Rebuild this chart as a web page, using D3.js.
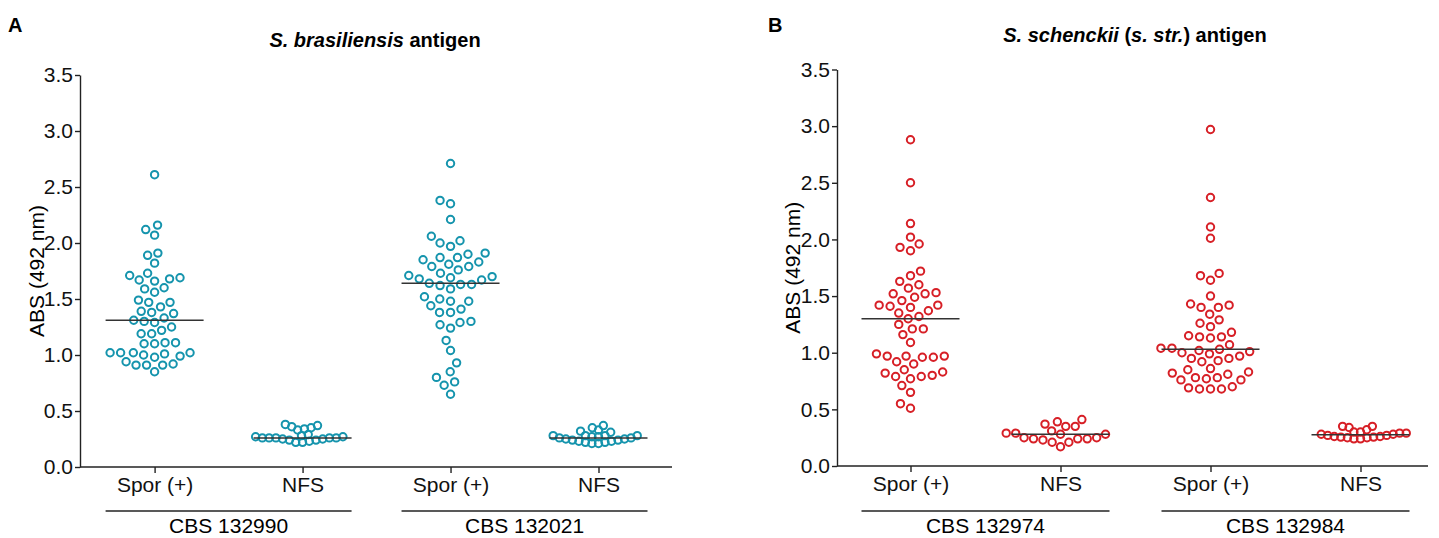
<!DOCTYPE html>
<html>
<head>
<meta charset="utf-8">
<script src="https://cdn.jsdelivr.net/npm/d3@7"></script>
<style>
  body { margin: 0; background: #fff; }
  svg { display: block; font-family: "Liberation Sans", Arial, sans-serif; }
</style>
</head>
<body>
<div id="chart"></div>
<script>
// data
const categoryLabels = ['Spor (+)', 'NFS', 'Spor (+)', 'NFS']
const yTicks = [0, 0.5, 1.0, 1.5, 2.0, 2.5, 3.0, 3.5]
const groupsA = ['CBS 132990', 'CBS 132021']
const groupsB = ['CBS 132974', 'CBS 132984']

const brasSpor1 = [2.61, 2.12, 2.07, 2.16, 1.91, 1.89, 1.82, 1.73, 1.71, 1.68, 1.66, 1.67, 1.69, 1.56, 1.59, 1.60,
    1.47, 1.47, 1.49, 1.43, 1.38, 1.37, 1.39, 1.33, 1.30, 1.29, 1.31, 1.25, 1.22, 1.19, 1.19, 1.11, 1.10, 1.10,
    1.11, 1.02, 1.01, 1.02, 0.99, 1.02, 0.98, 1.00, 1.02, 0.92, 0.91, 0.91, 0.91, 0.94, 0.85]
const brasNfs1 = [0.37, 0.35, 0.33, 0.34, 0.36, 0.38, 0.29, 0.27, 0.26, 0.26, 0.26, 0.25, 0.24, 0.23, 0.22, 0.22,
    0.24, 0.25, 0.26, 0.26, 0.27, 0.28]
const brasSpor2 = [2.71, 2.35, 2.38, 2.21, 2.06, 2.02, 1.97, 2.00, 1.90, 1.87, 1.85, 1.87, 1.91, 1.81, 1.79, 1.76,
    1.79, 1.83, 1.73, 1.70, 1.68, 1.67, 1.69, 1.71, 1.64, 1.63, 1.62, 1.63, 1.59, 1.50, 1.52, 1.48, 1.44, 1.48,
    1.38, 1.38, 1.41, 1.29, 1.24, 1.27, 1.30, 1.13, 1.04, 0.93, 0.85, 0.80, 0.76, 0.73, 0.65]
const brasNfs2 = [0.35, 0.32, 0.31, 0.33, 0.37, 0.28, 0.28, 0.27, 0.26, 0.25, 0.24, 0.23, 0.22, 0.21, 0.21, 0.22,
    0.23, 0.24, 0.25, 0.26, 0.27, 0.28, 0.28]

const schSpor1 = [2.88, 2.50, 2.14, 2.02, 1.96, 1.90, 1.93, 1.72, 1.68, 1.63, 1.57, 1.60, 1.52, 1.49, 1.46, 1.52,
    1.53, 1.42, 1.41, 1.37, 1.35, 1.40, 1.42, 1.32, 1.30, 1.21, 1.16, 1.21, 1.25, 1.09, 0.99, 0.97, 0.96, 0.92,
    0.90, 0.96, 0.97, 0.97, 0.85, 0.82, 0.79, 0.77, 0.79, 0.80, 0.83, 0.71, 0.65, 0.55, 0.51]
const schNfs1 = [0.37, 0.35, 0.39, 0.41, 0.35, 0.31, 0.29, 0.29, 0.28, 0.28, 0.25, 0.24, 0.23, 0.21, 0.17, 0.21,
    0.24, 0.24, 0.25]
const schSpor2 = [2.97, 2.37, 2.11, 2.01, 1.68, 1.64, 1.70, 1.50, 1.42, 1.40, 1.40, 1.43, 1.34, 1.29, 1.26, 1.23,
    1.18, 1.14, 1.13, 1.14, 1.15, 1.07, 1.04, 1.03, 1.04, 1.02, 1.00, 0.97, 0.95, 0.92, 0.93, 0.95, 0.99, 1.01,
    0.85, 0.82, 0.81, 0.83, 0.86, 0.78, 0.76, 0.76, 0.77, 0.78, 0.70, 0.68, 0.68, 0.68, 0.69]
const schNfs2 = [0.35, 0.35, 0.34, 0.32, 0.30, 0.29, 0.28, 0.27, 0.26, 0.255, 0.25, 0.24, 0.24, 0.25, 0.255, 0.26,
    0.27, 0.28, 0.29, 0.30]

// consts
const width = 1439, height = 538
const medianHalf = 49
const dotR = 3.7

const panels = [
    {
        letter: 'A', letterX: 8,
        title: [{t: 'S. brasiliensis', i: true}, {t: ' antigen'}], titleX: 375, titleY: 47,
        x0: 80, x1: 672, yTop: 75, yBottom: 467, catFirst: 154.6, catLast: 598.5, yLabelX: 44,
        groups: groupsA, series: [brasSpor1, brasNfs1, brasSpor2, brasNfs2], color: '#1594ad',
        // horizontal packing distance per column (Prism squeezes the crowded columns)
        dodgeDist: [10.5, 6.8, 11, 6.6]
    },
    {
        letter: 'B', letterX: 768,
        title: [{t: 'S. schenckii', i: true}, {t: ' ('}, {t: 's. str.', i: true}, {t: ') antigen'}], titleX: 1135, titleY: 42,
        x0: 837, x1: 1428, yTop: 69.5, yBottom: 466, catFirst: 910.5, catLast: 1360.5, yLabelX: 800,
        groups: groupsB, series: [schSpor1, schNfs1, schSpor2, schNfs2], color: '#d71f26',
        dodgeDist: [11, 9.5, 11, 6.6]
    }
]

// helpers
const dodge = (values, y, d) => {
    // lowest values first, so they sit in the middle of the column
    const pts = values.map(v => ({v, y: y(v), x: 0})).sort((a, b) => b.y - a.y)
    const placed = []
    pts.forEach(p => {
        let cands = [0]
        placed.forEach(q => {
            const dy = Math.abs(p.y - q.y)
            if (dy < d) {
                const dx = Math.sqrt(d * d - dy * dy)
                cands.push(q.x + dx, q.x - dx)
            }
        })
        cands.sort((a, b) => Math.abs(a) - Math.abs(b) || a - b)
        const ok = c => placed.every(q => (c - q.x) ** 2 + (p.y - q.y) ** 2 >= d * d - 1e-6)
        p.x = cands.find(ok)
        placed.push(p)
    })
    return pts
}

// renderer
const svg = d3.select('#chart')
    .append('svg')
    .attr('width', width)
    .attr('height', height)

panels.forEach(pn => {
    const y = d3.scaleLinear().domain([0, 3.5]).range([pn.yBottom, pn.yTop])
    const x = d3.scalePoint().domain(d3.range(categoryLabels.length)).range([pn.catFirst, pn.catLast])
    const g = svg.append('g')

    // letter + title
    g.append('text')
        .attr('x', pn.letterX).attr('y', 32)
        .attr('font-size', 20).attr('font-weight', 'bold')
        .text(pn.letter)
    const title = g.append('text')
        .attr('x', pn.titleX).attr('y', pn.titleY)
        .attr('text-anchor', 'middle')
        .attr('font-size', 20).attr('font-weight', 'bold')
    pn.title.forEach(s => {
        title.append('tspan').attr('font-style', s.i ? 'italic' : 'normal').text(s.t)
    })

    // y axis
    const yAxis = g.append('g')
        .attr('transform', `translate(${pn.x0},0)`)
        .call(d3.axisLeft(y).tickValues(yTicks).tickFormat(d3.format('.1f')).tickSize(5).tickSizeOuter(0).tickPadding(2))
    yAxis.selectAll('text').attr('font-size', 21).attr('fill', '#111').attr('font-family', null)
    yAxis.selectAll('line, path').attr('stroke', '#222').attr('stroke-width', 1.4)

    g.append('text')
        .attr('transform', `translate(${pn.yLabelX},${(pn.yTop + pn.yBottom) / 2}) rotate(-90)`)
        .attr('text-anchor', 'middle')
        .attr('font-size', 21)
        .text('ABS (492 nm)')

    // x axis
    const xAxis = g.append('g')
        .attr('transform', `translate(0,${pn.yBottom})`)
        .call(d3.axisBottom(x).tickFormat(i => categoryLabels[i]).tickSize(6).tickPadding(4))
    xAxis.select('.domain').remove()
    xAxis.selectAll('text').attr('font-size', 21).attr('fill', '#111').attr('font-family', null)
    xAxis.selectAll('line').attr('stroke', '#222').attr('stroke-width', 1.4)
    xAxis.append('line')
        .attr('x1', pn.x0).attr('x2', pn.x1)
        .attr('stroke', '#222').attr('stroke-width', 1.4)

    // group brackets
    pn.groups.forEach((name, gi) => {
        const a = x(gi * 2), b = x(gi * 2 + 1)
        g.append('line')
            .attr('x1', a - medianHalf).attr('x2', b + medianHalf)
            .attr('y1', 511).attr('y2', 511)
            .attr('stroke', '#222').attr('stroke-width', 1.3)
        g.append('text')
            .attr('x', (a + b) / 2).attr('y', 533)
            .attr('text-anchor', 'middle')
            .attr('font-size', 21)
            .text(name)
    })

    // dots + medians
    pn.series.forEach((vals, ci) => {
        const cx = x(ci)
        const pts = dodge(vals, y, pn.dodgeDist[ci])
        g.append('g')
            .selectAll('circle')
            .data(pts)
            .enter()
            .append('circle')
            .attr('cx', d => cx + d.x)
            .attr('cy', d => d.y)
            .attr('r', dotR)
            .attr('fill', 'none')
            .attr('stroke', pn.color)
            .attr('stroke-width', 2)
        const med = d3.median(vals)
        g.append('line')
            .attr('x1', cx - medianHalf).attr('x2', cx + medianHalf)
            .attr('y1', y(med)).attr('y2', y(med))
            .attr('stroke', '#333').attr('stroke-width', 1.5)
    })
})
</script>
</body>
</html>
